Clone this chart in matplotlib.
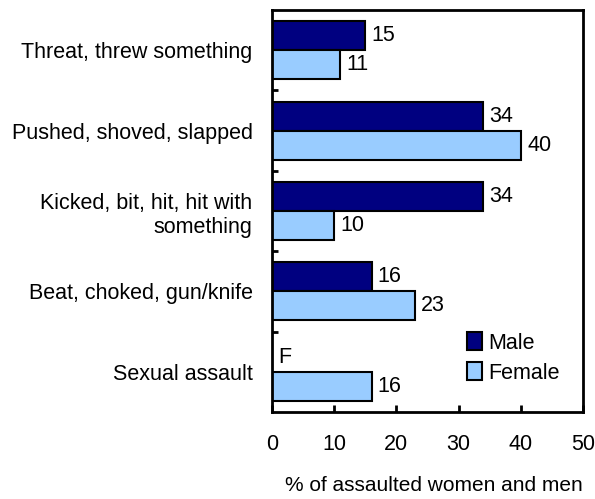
import numpy as np
import matplotlib
matplotlib.use('Agg')
import matplotlib.pyplot as plt

categories = ['Threat, threw something',
              'Pushed, shoved, slapped',
              'Kicked, bit, hit, hit with\nsomething',
              'Beat, choked, gun/knife',
              'Sexual assault']
male = [15, 34, 34, 16, np.nan]   # F = too unreliable to be published
female = [11, 40, 10, 23, 16]
male_labels = ['15', '34', '34', '16', 'F']
female_labels = ['11', '40', '10', '23', '16']

plt.rcParams['font.family'] = ['Liberation Sans', 'DejaVu Sans']
fs = 15.5

fig = plt.figure(figsize=(5.95, 4.99), dpi=100)
ax = fig.add_axes([272 / 595, 1 - 412 / 499, 311 / 595, 402 / 499])

y = np.arange(len(categories))
h = 0.36
navy = '#000080'
light = '#99ccff'

ax.barh(y - h / 2, np.nan_to_num(male), height=h, color=navy,
        edgecolor='black', linewidth=1.5, label='Male')
ax.barh(y + h / 2, female, height=h, color=light,
        edgecolor='black', linewidth=1.5, label='Female')

# value labels
for i in range(len(categories)):
    mv = 0 if np.isnan(male[i]) else male[i]
    ax.text(mv + 1.0, y[i] - h / 2, male_labels[i], va='center', ha='left', fontsize=fs)
    ax.text(female[i] + 1.0, y[i] + h / 2, female_labels[i], va='center', ha='left', fontsize=fs)

ax.set_xlim(0, 50)
ax.set_ylim(len(categories) - 0.5, -0.5)
ax.set_xticks([0, 10, 20, 30, 40, 50])
ax.tick_params(axis='x', direction='in', length=5, width=2, pad=16, labelsize=fs)

ax.set_yticks(y)
ax.set_yticklabels(categories, fontsize=fs, ha='right')
ax.tick_params(axis='y', which='major', length=0, pad=14)
ax.set_yticks(np.arange(0.5, len(categories) - 0.5, 1), minor=True)
ax.tick_params(axis='y', which='minor', direction='in', length=4, width=2)

for s in ax.spines.values():
    s.set_linewidth(2)

ax.set_xlabel('% of assaulted women and men', fontsize=15, va='center')
ax.xaxis.set_label_coords(0.52, -0.182)

ax.legend(loc='upper left', bbox_to_anchor=(0.6, 0.22), frameon=False,
          fontsize=fs, handlelength=0.7, handleheight=0.9, handletextpad=0.3,
          labelspacing=0.4, borderaxespad=0)

fig.savefig('out.png', dpi=100)
